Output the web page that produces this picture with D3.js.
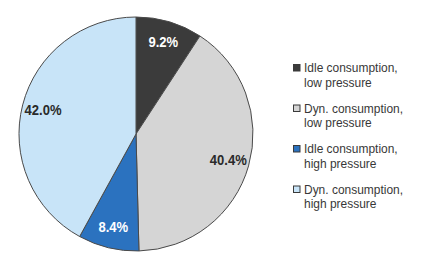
<!DOCTYPE html>
<html>
<head>
<meta charset="utf-8">
<script src="https://cdn.jsdelivr.net/npm/d3@7"></script>
<style>
  html, body { margin: 0; padding: 0; background: #fff; }
  svg { display: block; }
</style>
</head>
<body>
<svg id="chart" width="431" height="275"></svg>
<script>
const categories = [
  ["Idle consumption,", "low pressure"],
  ["Dyn. consumption,", "low pressure"],
  ["Idle consumption,", "high pressure"],
  ["Dyn. consumption,", "high pressure"]
];
const values = [9.2, 40.4, 8.4, 42.0];
const valueLabels = ["9.2%", "40.4%", "8.4%", "42.0%"];
const colors = ["#3b3b3b", "#d5d5d5", "#2b72bf", "#c8e4f8"];
const labelColors = ["#ffffff", "#2a2a2a", "#ffffff", "#2a2a2a"];

const svg = d3.select("#chart");
const cx = 136, cy = 134, r = 117;
const labelFont = "'Liberation Sans', Arial, sans-serif";

const pie = d3.pie().sort(null).value(d => d)(values);
const arc = d3.arc().innerRadius(0).outerRadius(r);
const labelArc = d3.arc().innerRadius(r * 0.82).outerRadius(r * 0.82);

const g = svg.append("g").attr("transform", `translate(${cx},${cy})`);
g.selectAll("path.slice").data(pie).join("path")
  .attr("class", "slice")
  .attr("d", arc)
  .attr("fill", (d, i) => colors[i])
  .attr("stroke", "#4a4a4a")
  .attr("stroke-width", 1);

g.selectAll("text.lab").data(pie).join("text")
  .attr("class", "lab")
  .attr("transform", d => `translate(${labelArc.centroid(d)}) scale(0.87,1)`)
  .attr("text-anchor", "middle")
  .attr("dy", "0.35em")
  .attr("font-family", labelFont)
  .attr("font-weight", "bold")
  .attr("font-size", 15)
  .attr("fill", (d, i) => labelColors[i])
  .text((d, i) => valueLabels[i]);

const legendY = d3.scaleBand().domain(d3.range(categories.length)).range([52, 214]);
const lg = svg.append("g");
const items = lg.selectAll("g").data(categories).join("g")
  .attr("transform", (d, i) => `translate(293, ${legendY(i) + 20})`);
items.append("rect")
  .attr("x", 0.5).attr("y", -7.5).attr("width", 6.5).attr("height", 6.5)
  .attr("fill", (d, i) => colors[i])
  .attr("stroke", "#3a3a3a").attr("stroke-width", 1);
items.append("text")
  .attr("transform", "translate(11,0) scale(0.92,1)")
  .attr("font-family", labelFont)
  .attr("font-size", 13)
  .attr("fill", "#383838")
  .selectAll("tspan").data(d => d).join("tspan")
  .attr("x", 0)
  .attr("dy", (d, j) => j === 0 ? 0 : 15)
  .text(d => d);
</script>
</body>
</html>
